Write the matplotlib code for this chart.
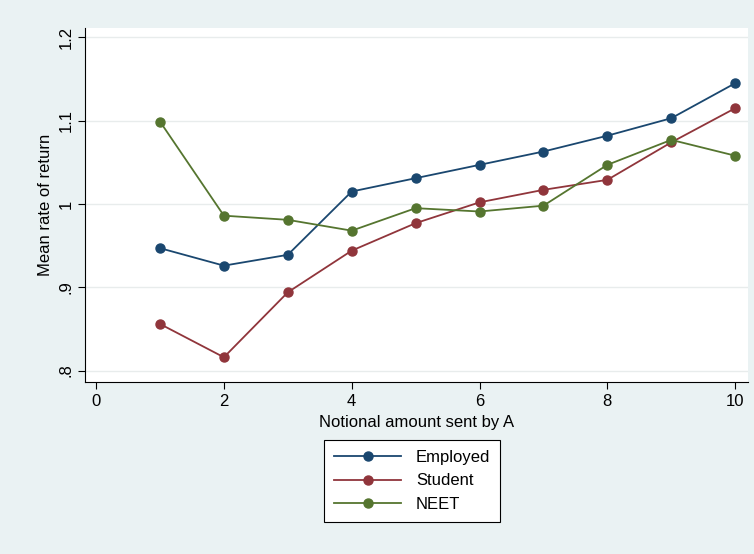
import matplotlib
matplotlib.use("Agg")
import matplotlib.pyplot as plt

amount = [1, 2, 3, 4, 5, 6, 7, 8, 9, 10]
employed = [0.947, 0.926, 0.939, 1.015, 1.031, 1.047, 1.063, 1.082, 1.103, 1.145]
student = [0.856, 0.816, 0.894, 0.944, 0.977, 1.002, 1.017, 1.029, 1.074, 1.115]
neet = [1.099, 0.986, 0.981, 0.968, 0.995, 0.991, 0.998, 1.047, 1.077, 1.058]

plt.rcParams.update({"font.family": "Liberation Sans", "font.size": 12})

fig = plt.figure(figsize=(7.54, 5.54), dpi=100, facecolor="#eaf2f3")
ax = fig.add_axes([0.113, 0.310, 0.879, 0.639])
ax.set_facecolor("white")

ax.plot(amount, employed, "-o", color="#1a476f", ms=6.5, lw=1.3, label="Employed")
ax.plot(amount, student, "-o", color="#90353b", ms=6.5, lw=1.3, label="Student")
ax.plot(amount, neet, "-o", color="#55752f", ms=6.5, lw=1.3, label="NEET")

ax.set_xlim(-0.17, 10.2)
ax.set_ylim(0.786, 1.211)
ax.set_xticks([0, 2, 4, 6, 8, 10])
ax.set_yticks([0.8, 0.9, 1.0, 1.1, 1.2])
ax.set_yticklabels([".8", ".9", "1", "1.1", "1.2"], rotation=90, va="center")
ax.grid(axis="y", color="#e8ecec", lw=1)
ax.set_axisbelow(True)
for s in ["top", "right"]:
    ax.spines[s].set_visible(False)
ax.tick_params(direction="out", length=5)
ax.set_xlabel("Notional amount sent by A")
ax.set_ylabel("Mean rate of return")

leg = fig.legend(loc="center", bbox_to_anchor=(0.547, 0.132), fancybox=False,
                 edgecolor="black", framealpha=1, handlelength=4.0, borderpad=0.6,
                 borderaxespad=0, handletextpad=0.9)
for t in leg.get_texts():
    t.set_x(0)
leg.get_frame().set_linewidth(0.8)
leg._legend_box.sep = 4
for h in leg.legend_handles:
    pass

fig.savefig("out.png", dpi=100, facecolor=fig.get_facecolor())
